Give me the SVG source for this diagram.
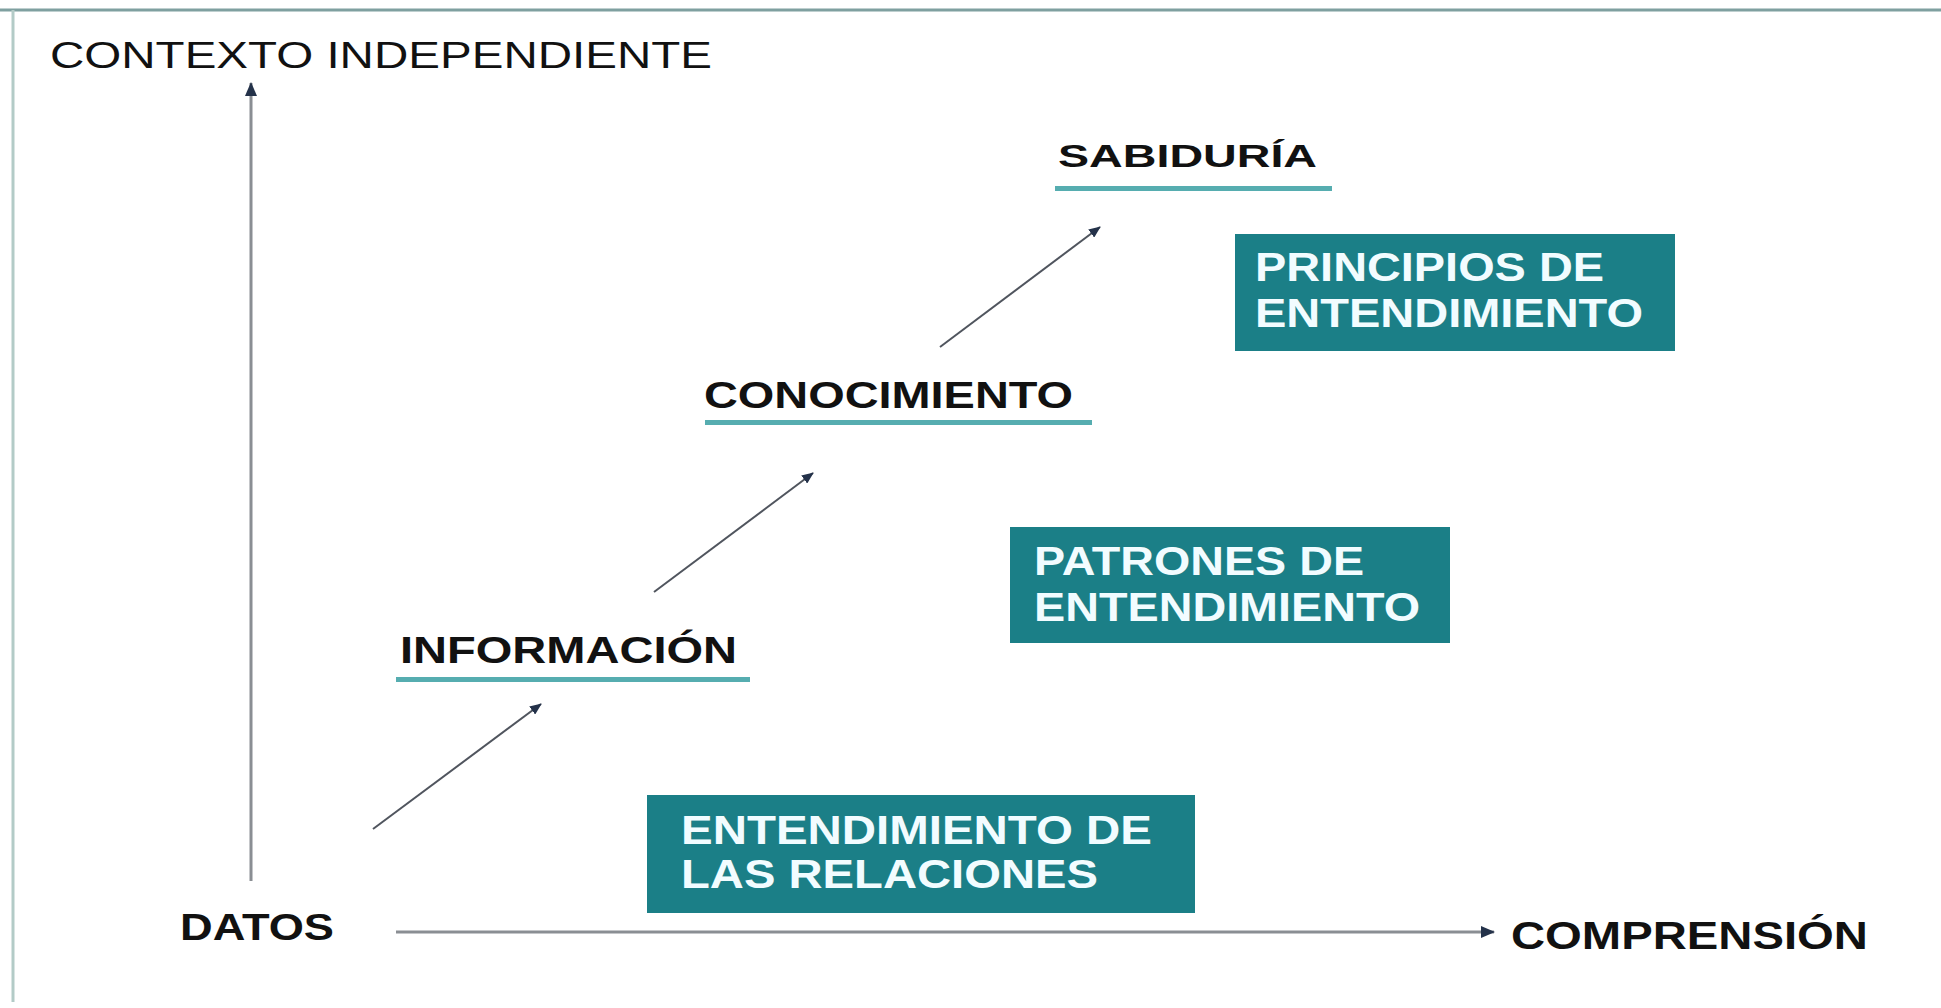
<svg xmlns="http://www.w3.org/2000/svg" width="1941" height="1008" viewBox="0 0 1941 1008">
  <style>
    .axis { stroke: #8a8e93; stroke-width: 3; fill: none; }
    .step { stroke: #50555e; stroke-width: 2; fill: none; }
    .lbl { font-family: "Liberation Sans", Arial, sans-serif; font-weight: bold; fill: #111111; }
    .ctx { font-family: "Liberation Sans", Arial, sans-serif; font-weight: normal; fill: #111111; }
    .ul { fill: #56adb0; }
    .box { fill: #1b7f87; }
    .boxt { font-family: "Liberation Sans", Arial, sans-serif; font-weight: bold; fill: #f2fcff; font-size: 40px; }
  </style>
  <defs>
    <marker id="ah" markerUnits="userSpaceOnUse" markerWidth="14" markerHeight="12" refX="13" refY="6" orient="auto">
      <path d="M0,0 L14,6 L0,12 z" fill="#24324a"/>
    </marker>
    <marker id="ahs" markerUnits="userSpaceOnUse" markerWidth="12" markerHeight="10" refX="11" refY="5" orient="auto">
      <path d="M0,0 L12,5 L0,10 z" fill="#24324a"/>
    </marker>
  </defs>
  <rect x="0" y="0" width="1941" height="1008" fill="#ffffff"/>
  <g id="frame">
    <line x1="0" y1="10" x2="1941" y2="10" stroke="#7fa0a0" stroke-width="3"/>
    <line x1="13" y1="10" x2="13" y2="1002" stroke="#b3cbc7" stroke-width="3"/>
  </g>

  <g id="connectors">
    <line id="axis-y" class="axis" x1="251" y1="881" x2="251" y2="83" marker-end="url(#ah)"/>
    <line id="axis-x" class="axis" x1="396" y1="932" x2="1494" y2="932" marker-end="url(#ah)"/>
    <line id="step1" class="step" x1="373" y1="829" x2="541" y2="704" marker-end="url(#ahs)"/>
    <line id="step2" class="step" x1="654" y1="592" x2="813" y2="473" marker-end="url(#ahs)"/>
    <line id="step3" class="step" x1="940" y1="347" x2="1100" y2="227" marker-end="url(#ahs)"/>
  </g>

  <g id="contexto">
    <text class="ctx" x="50" y="68" font-size="37" textLength="662" lengthAdjust="spacingAndGlyphs">CONTEXTO INDEPENDIENTE</text>
  </g>
  <g id="datos">
    <text class="lbl" x="180" y="940" font-size="37" textLength="154" lengthAdjust="spacingAndGlyphs">DATOS</text>
  </g>
  <g id="comprension">
    <text class="lbl" x="1511" y="949" font-size="38" textLength="357" lengthAdjust="spacingAndGlyphs">COMPRENSIÓN</text>
  </g>
  <g id="informacion">
    <text class="lbl" x="400" y="663" font-size="36" textLength="337" lengthAdjust="spacingAndGlyphs">INFORMACIÓN</text>
    <rect class="ul" x="396" y="677" width="354" height="5"/>
  </g>
  <g id="conocimiento">
    <text class="lbl" x="704" y="408" font-size="36" textLength="369" lengthAdjust="spacingAndGlyphs">CONOCIMIENTO</text>
    <rect class="ul" x="705" y="420" width="387" height="5"/>
  </g>
  <g id="sabiduria">
    <text class="lbl" x="1058" y="167" font-size="32" textLength="259" lengthAdjust="spacingAndGlyphs">SABIDURÍA</text>
    <rect class="ul" x="1055" y="186" width="277" height="5" fill="#62a6a9"/>
  </g>

  <g id="relaciones">
    <rect class="box" x="647" y="795" width="548" height="118"/>
    <text class="boxt" x="681" y="844" textLength="471" lengthAdjust="spacingAndGlyphs">ENTENDIMIENTO DE</text>
    <text class="boxt" x="681" y="888" textLength="417" lengthAdjust="spacingAndGlyphs">LAS RELACIONES</text>
  </g>
  <g id="patrones">
    <rect class="box" x="1010" y="527" width="440" height="116"/>
    <text class="boxt" x="1034" y="575" textLength="330" lengthAdjust="spacingAndGlyphs">PATRONES DE</text>
    <text class="boxt" x="1034" y="621" textLength="386" lengthAdjust="spacingAndGlyphs">ENTENDIMIENTO</text>
  </g>
  <g id="principios">
    <rect class="box" x="1235" y="234" width="440" height="117"/>
    <text class="boxt" x="1255" y="281" textLength="349" lengthAdjust="spacingAndGlyphs">PRINCIPIOS DE</text>
    <text class="boxt" x="1255" y="327" textLength="388" lengthAdjust="spacingAndGlyphs">ENTENDIMIENTO</text>
  </g>
</svg>
